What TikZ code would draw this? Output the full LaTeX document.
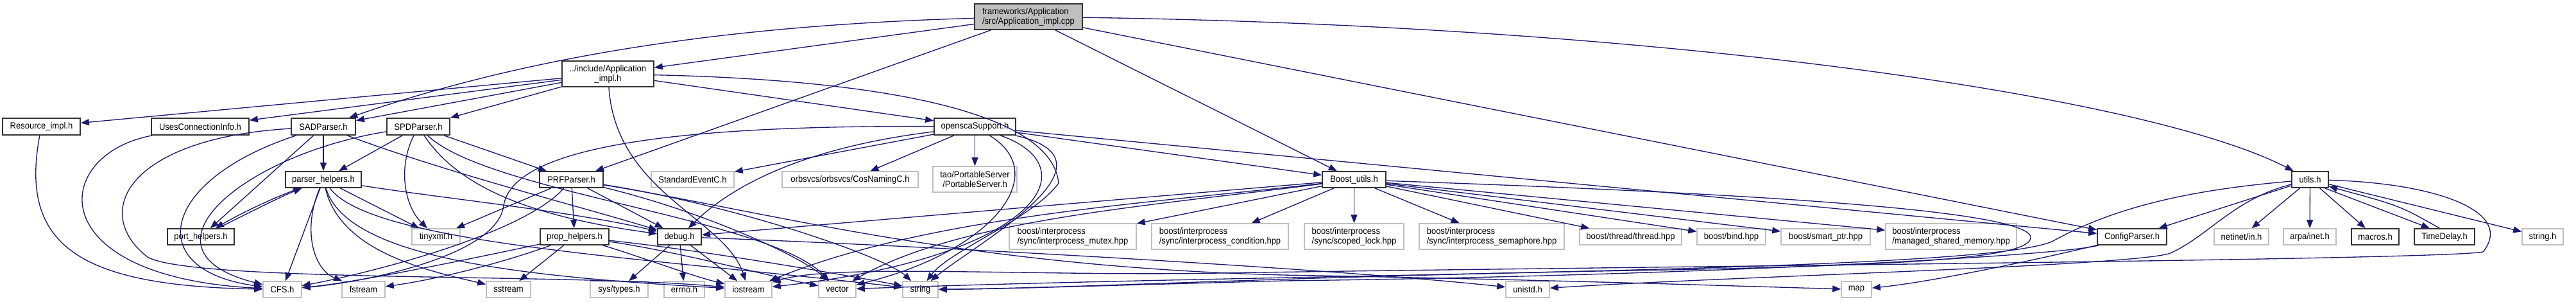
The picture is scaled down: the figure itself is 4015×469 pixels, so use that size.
\documentclass[tikz,border=0pt]{standalone}
\usepackage{fontspec}
\setmainfont[FakeStretch=0.93]{Liberation Sans}
\usetikzlibrary{arrows.meta}
\definecolor{edgeblue}{HTML}{191970}
\definecolor{extgray}{HTML}{BFBFBF}
\definecolor{rootgray}{HTML}{BFBFBF}
\newcommand\nodebox[7]{\node[#1, minimum width={(#5-#3)*0.1mm}, minimum height={(#6-#4)*0.1mm}] (#2) at ({(#3+#5)/2},{(#4+#6)/2}) {#7};}
\tikzset{
  box/.style={draw=black!80, line width=0.5pt, fill=white, inner sep=0pt, align=center,
    font=\fontsize{3.98pt}{4.27pt}\selectfont},
  boxl/.style={box, align=left},
  ext/.style={box, draw=extgray, line width=0.45pt},
  extl/.style={ext, align=left},
  root/.style={boxl, fill=rootgray},
  e/.style={draw=edgeblue, line width=0.38pt, -{Triangle[length=1.3mm,width=1mm]}, fill=none}
}
\begin{document}
\begin{tikzpicture}[x=0.1mm,y=-0.1mm]
\useasboundingbox (0,0) rectangle (4015,469);
% row 0/1
\nodebox{root}{A}{1519}{6}{1687}{46}{frameworks/Application\\/src/Application\_impl.cpp}
\nodebox{box}{AppH}{876}{95}{1019}{135}{../include/Application\\\_impl.h}
% row 2
\nodebox{box}{Res}{4}{184}{125}{210}{Resource\_impl.h}
\nodebox{box}{Uses}{236}{184}{388}{210}{UsesConnectionInfo.h}
\nodebox{box}{SAD}{454}{184}{554}{210}{SADParser.h}
\nodebox{box}{SPD}{603}{184}{701}{210}{SPDParser.h}
\nodebox{box}{OSS}{1456}{184}{1583}{210}{openscaSupport.h}
% row 3
\nodebox{box}{PH}{445}{267}{563}{292}{parser\_helpers.h}
\nodebox{box}{PRF}{841}{267}{940}{292}{PRFParser.h}
\nodebox{ext}{SEC}{1015}{267}{1144}{292}{StandardEventC.h}
\nodebox{ext}{CNC}{1219}{267}{1431}{292}{orbsvcs/orbsvcs/CosNamingC.h}
\nodebox{ext}{PS}{1454}{259}{1585}{299}{tao/PortableServer\\/PortableServer.h}
\nodebox{box}{BU}{2061}{267}{2160}{292}{Boost\_utils.h}
\nodebox{box}{UT}{3572}{267}{3629}{292}{utils.h}
% row 4
\nodebox{box}{PoH}{261}{356}{365}{381}{port\_helpers.h}
\nodebox{ext}{TX}{642}{356}{717}{381}{tinyxml.h}
\nodebox{box}{PrH}{842}{356}{949}{381}{prop\_helpers.h}
\nodebox{box}{DB}{1025}{356}{1093}{381}{debug.h}
\nodebox{extl}{BM}{1573}{348}{1771}{388}{boost/interprocess\\/sync/interprocess\_mutex.hpp}
\nodebox{extl}{BC}{1795}{348}{2008}{388}{boost/interprocess\\/sync/interprocess\_condition.hpp}
\nodebox{extl}{BSL}{2033}{348}{2188}{388}{boost/interprocess\\/sync/scoped\_lock.hpp}
\nodebox{extl}{BSem}{2212}{348}{2438}{388}{boost/interprocess\\/sync/interprocess\_semaphore.hpp}
\nodebox{ext}{BT}{2462}{356}{2621}{381}{boost/thread/thread.hpp}
\nodebox{ext}{BB}{2645}{356}{2752}{381}{boost/bind.hpp}
\nodebox{ext}{BSP}{2776}{356}{2915}{381}{boost/smart\_ptr.hpp}
\nodebox{extl}{BMS}{2939}{348}{3143}{388}{boost/interprocess\\/managed\_shared\_memory.hpp}
\nodebox{box}{CP}{3269}{356}{3377}{381}{ConfigParser.h}
\nodebox{ext}{NI}{3451}{356}{3536}{381}{netinet/in.h}
\nodebox{ext}{AI}{3559}{356}{3641}{381}{arpa/inet.h}
\nodebox{box}{MAC}{3665}{356}{3739}{381}{macros.h}
\nodebox{box}{TD}{3763}{356}{3857}{381}{TimeDelay.h}
\nodebox{ext}{SH}{3931}{356}{3995}{381}{string.h}
% row 5
\nodebox{ext}{CFS}{410}{438}{470}{463}{CFS.h}
\nodebox{ext}{FS}{533}{438}{600}{463}{fstream}
\nodebox{ext}{SS}{758}{438}{827}{463}{sstream}
\nodebox{ext}{ST}{920}{438}{1010}{463}{sys/types.h}
\nodebox{ext}{ER}{1035}{438}{1098}{463}{errno.h}
\nodebox{ext}{IO}{1130}{438}{1203}{463}{iostream}
\nodebox{ext}{VEC}{1276}{438}{1334}{463}{vector}
\nodebox{ext}{STR}{1407}{438}{1462}{463}{string}
\nodebox{ext}{UN}{2347}{438}{2415}{463}{unistd.h}
\nodebox{ext}{MAP}{2870}{438}{2917}{463}{map}

% ---- edges from the root
\draw[e] (A) -- (AppH);
\draw[e] (A) .. controls (1100,40) and (800,95) .. (SAD);
\draw[e] (A) -- (PRF);
\draw[e] (A) -- (BU);
\draw[e] (A) -- (CP);
\draw[e] (A) .. controls (2600,40) and (3350,150) .. (UT);
% ---- Application_impl.h
\draw[e] (AppH) -- (Res);
\draw[e] (AppH) -- (Uses);
\draw[e] (AppH) -- (SAD);
\draw[e] (AppH) -- (SPD);
\draw[e] (AppH) -- (OSS);
\draw[e] (AppH) .. controls (960,300) and (1130,340) .. (IO);
\draw[e] (AppH) .. controls (1400,125) and (1640,180) .. (1650,285) .. controls (1610,340) and (1480,390) .. (STR);
% ---- Resource / Uses
\draw[e] (Res) .. controls (30,380) and (120,445) .. (CFS);
\draw[e] (Uses) .. controls (80,240) and (60,430) .. (CFS);
% ---- SADParser
\draw[e] (SAD) -- (PH);
\draw[e] (SAD) -- (PoH);
\draw[e] (SAD) .. controls (250,280) and (220,420) .. (CFS);
\draw[e] (SAD) .. controls (200,215) and (140,330) .. (230,400) .. controls (300,440) and (900,425) .. (IO);
\draw[e] (SAD) .. controls (700,270) and (900,320) .. (DB);
% ---- SPDParser
\draw[e] (SPD) -- (PH);
\draw[e] (SPD) .. controls (620,260) and (630,320) .. (TX);
\draw[e] (SPD) -- (PRF);
\draw[e] (SPD) .. controls (380,240) and (200,390) .. (CFS);
\draw[e] (SPD) .. controls (720,300) and (850,340) .. (DB);
\draw[e] (SPD) .. controls (760,300) and (1200,340) .. (VEC);
% ---- parser_helpers / port_helpers
\draw[e] (PH) .. controls (420,310) and (370,335) .. (PoH);
\draw[e] (PoH) .. controls (390,330) and (440,305) .. (PH);
\draw[e] (PH) -- (CFS);
\draw[e] (PH) .. controls (470,360) and (490,420) .. (FS);
\draw[e] (PH) -- (TX);
\draw[e] (PH) .. controls (700,310) and (900,330) .. (DB);
\draw[e] (PH) .. controls (530,390) and (660,420) .. (SS);
\draw[e] (PH) .. controls (540,400) and (800,430) .. (IO);
\draw[e] (PH) .. controls (580,380) and (1000,400) .. (STR);
% ---- PRFParser
\draw[e] (PRF) -- (TX);
\draw[e] (PRF) .. controls (820,360) and (600,420) .. (CFS);
\draw[e] (PRF) -- (PrH);
\draw[e] (PRF) -- (DB);
\draw[e] (PRF) .. controls (1100,330) and (1250,400) .. (VEC);
\draw[e] (PRF) .. controls (1150,320) and (1380,400) .. (STR);
\draw[e] (PRF) .. controls (1200,330) and (1500,415) .. (2000,428) .. controls (2400,435) and (2700,445) .. (MAP);
% ---- prop_helpers
\draw[e] (PrH) .. controls (700,410) and (550,440) .. (CFS);
\draw[e] (PrH) .. controls (780,410) and (680,435) .. (FS);
\draw[e] (PrH) -- (SS);
\draw[e] (PrH) .. controls (1000,400) and (1080,430) .. (IO);
\draw[e] (PrH) .. controls (1050,390) and (1200,430) .. (VEC);
\draw[e] (PrH) .. controls (1100,390) and (1330,430) .. (STR);
% ---- debug
\draw[e] (DB) -- (ST);
\draw[e] (DB) -- (ER);
\draw[e] (DB) -- (IO);
\draw[e] (DB) .. controls (1500,385) and (2100,420) .. (UN);
% ---- openscaSupport
\draw[e] (OSS) -- (SEC);
\draw[e] (OSS) -- (CNC);
\draw[e] (OSS) -- (PS);
\draw[e] (OSS) .. controls (1250,230) and (1140,290) .. (DB);
\draw[e] (OSS) .. controls (1100,195) and (800,220) .. (785,320) .. controls (775,400) and (560,440) .. (CFS);
\draw[e] (OSS) -- (BU);
\draw[e] (OSS) -- (CP);
\draw[e] (OSS) .. controls (1640,270) and (1550,390) .. (VEC);
\draw[e] (OSS) .. controls (1700,260) and (1620,400) .. (IO);
\draw[e] (OSS) .. controls (1760,250) and (1520,380) .. (STR);
% ---- Boost_utils
\draw[e] (BU) -- (BM);
\draw[e] (BU) -- (BC);
\draw[e] (BU) -- (BSL);
\draw[e] (BU) -- (BSem);
\draw[e] (BU) -- (BT);
\draw[e] (BU) -- (BB);
\draw[e] (BU) -- (BSP);
\draw[e] (BU) -- (BMS);
\draw[e] (BU) -- (DB);
\draw[e] (BU) .. controls (1800,320) and (1500,340) .. (VEC);
\draw[e] (BU) .. controls (1800,316) and (1450,335) .. (IO);
\draw[e] (BU) .. controls (2700,300) and (3150,325) .. (3165,368) .. controls (3170,400) and (3000,412) .. (2600,420) .. controls (2000,430) and (1700,448) .. (STR);
% ---- utils
\draw[e] (UT) -- (CP);
\draw[e] (UT) -- (NI);
\draw[e] (UT) -- (AI);
\draw[e] (UT) -- (MAC);
\draw[e] (UT.-30) -- (TD.150);
\draw[e] (TD.120) .. controls (3740,320) .. (UT.-20);
\draw[e] (UT) -- (SH);
\draw[e] (UT) .. controls (3420,295) and (3300,320) .. (3200,375) .. controls (3100,425) and (2000,425) .. (VEC);
\draw[e] (UT) .. controls (3480,310) and (3440,370) .. (3380,395) .. controls (3300,415) and (2700,430) .. (UN);
\draw[e] (UT) .. controls (3800,285) and (3920,330) .. (3870,392) .. controls (3800,405) and (2500,415) .. (1900,425) .. controls (1600,430) and (1300,410) .. (IO);
% ---- ConfigParser
\draw[e] (CP) .. controls (3150,410) and (3000,440) .. (MAP);
\draw[e] (CP) .. controls (3200,400) and (2600,430) .. (2000,437) .. controls (1700,445) and (1550,450) .. (STR);
\end{tikzpicture}
\end{document}
